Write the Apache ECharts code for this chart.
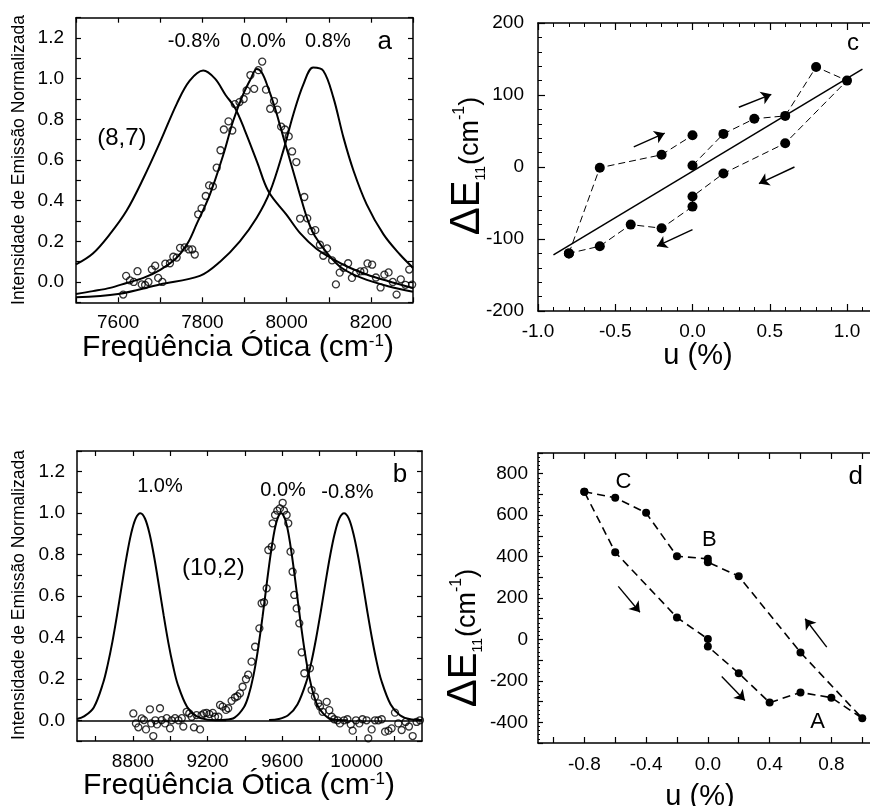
<!DOCTYPE html>
<html><head><meta charset="utf-8">
<script src="https://cdn.jsdelivr.net/npm/echarts@6/dist/echarts.min.js"></script>
<style>html,body{margin:0;padding:0;background:#fff}#c{width:870px;height:806px}</style>
</head><body><div id="c"></div><script>
// ---------- Panel a : (8,7) emission, Lorentzian fits ----------
const aCurveNeg08 = [[7500,0.086],[7540,0.14],[7580,0.234],[7620,0.35],[7660,0.51],[7700,0.69],[7740,0.88],[7770,0.99],[7802,1.04],[7830,1.0],[7855,0.92],[7877,0.858],[7900,0.75],[7930,0.59],[7957,0.445],[8000,0.33],[8032,0.24],[8070,0.165],[8111,0.111],[8150,0.07],[8190,0.037],[8240,0.005],[8300,-0.03]];
const aCurveZero = [[7500,-0.059],[7540,-0.045],[7581,-0.029],[7620,-0.005],[7660,0.02],[7700,0.06],[7739,0.119],[7765,0.19],[7786,0.283],[7818,0.431],[7850,0.628],[7873,0.792],[7897,0.924],[7915,1.0],[7929,1.048],[7941,1.03],[7956,0.956],[7972,0.858],[7988,0.743],[8004,0.628],[8020,0.513],[8036,0.398],[8051,0.3],[8067,0.226],[8099,0.135],[8131,0.069],[8178,0.02],[8241,-0.021],[8300,-0.048]];
const aCurvePos08 = [[7500,-0.075],[7600,-0.059],[7699,-0.012],[7794,0.03],[7842,0.1],[7889,0.2],[7929,0.316],[7961,0.447],[7992,0.645],[8016,0.825],[8040,0.973],[8063,1.055],[8087,1.039],[8111,0.907],[8135,0.71],[8159,0.546],[8190,0.382],[8230,0.234],[8269,0.135],[8300,0.07]];
const aPoints = [[7612,-0.062],[7619,0.03],[7628,0.008],[7637,0.0],[7646,0.053],[7656,-0.012],[7664,-0.015],[7672,0.0],[7680,0.061],[7688,0.08],[7695,0.02],[7705,0.0],[7712,0.09],[7723,0.092],[7731,0.124],[7739,0.12],[7747,0.168],[7758,0.17],[7768,0.16],[7776,0.16],[7782,0.135],[7790,0.333],[7798,0.362],[7808,0.423],[7816,0.475],[7825,0.47],[7834,0.562],[7843,0.648],[7851,0.75],[7862,0.79],[7871,0.745],[7877,0.875],[7888,0.885],[7898,0.9],[7905,0.942],[7914,1.018],[7923,0.95],[7933,1.042],[7942,1.084],[7951,0.946],[7961,0.852],[7970,0.89],[7978,0.848],[7987,0.764],[7996,0.75],[8005,0.716],[8013,0.642],[8023,0.59],[8032,0.312],[8042,0.418],[8049,0.313],[8059,0.25],[8068,0.255],[8079,0.183],[8087,0.129],[8096,0.165],[8108,0.106],[8117,-0.012],[8126,0.046],[8135,0.07],[8146,0.092],[8155,0.02],[8165,0.044],[8175,0.052],[8184,0.053],[8192,0.091],[8203,0.085],[8212,0.022],[8223,-0.027],[8232,0.036],[8242,0.047],[8252,0.0],[8261,-0.062],[8271,0.013],[8282,-0.014],[8291,0.061],[8298,-0.013]];
const aPctLabels = [[7780,1.182,'-0.8%'],[7944,1.182,'0.0%'],[8098,1.182,'0.8%']];
const aTubeLabel = [[7609,0.708,'(8,7)']];
const aTag = [[8233,1.18,'a']];

// ---------- Panel b : (10,2) emission, Gaussian fits ----------
const bCurvePos10 = [[8500,0.006],[8540,0.02],[8590,0.062],[8640,0.18],[8665,0.27],[8690,0.38],[8715,0.51],[8740,0.65],[8765,0.785],[8790,0.9],[8815,0.975],[8840,1.0],[8865,0.973],[8890,0.897],[8915,0.782],[8940,0.646],[8965,0.505],[8990,0.374],[9015,0.263],[9040,0.174],[9090,0.065],[9140,0.02],[9200,0.003],[9300,0]];
const bCurveZero = [[9250,0.001],[9295,0.002],[9345,0.013],[9395,0.063],[9420,0.12],[9445,0.211],[9470,0.339],[9495,0.5],[9520,0.678],[9545,0.841],[9570,0.958],[9595,1.0],[9620,0.958],[9645,0.841],[9670,0.678],[9695,0.5],[9720,0.339],[9745,0.211],[9770,0.12],[9795,0.063],[9845,0.013],[9895,0.002],[9950,0]];
const bCurveNeg08 = [[9530,0.001],[9582,0.006],[9632,0.024],[9682,0.076],[9732,0.192],[9757,0.282],[9782,0.395],[9807,0.524],[9832,0.662],[9857,0.793],[9882,0.902],[9907,0.975],[9932,1.0],[9957,0.975],[9982,0.902],[10007,0.793],[10032,0.662],[10057,0.524],[10082,0.395],[10107,0.282],[10132,0.192],[10182,0.076],[10232,0.024],[10282,0.006],[10350,0.001]];
const bPoints = [[8802,0.033],[8816,-0.015],[8829,-0.034],[8847,0.009],[8859,0.001],[8870,-0.044],[8891,0.053],[8898,-0.015],[8909,-0.076],[8920,0.0],[8929,-0.02],[8945,0.058],[8954,0.001],[8972,-0.015],[8981,0.01],[8999,-0.039],[9008,0.0],[9026,0.01],[9044,0.0],[9062,0.01],[9070,-0.03],[9088,0.041],[9102,0.033],[9115,0.017],[9127,-0.034],[9141,0.025],[9160,-0.044],[9168,0.025],[9181,0.033],[9195,0.036],[9210,0.03],[9228,0.036],[9240,0.017],[9258,0.017],[9267,0.074],[9281,0.066],[9299,0.05],[9311,0.058],[9329,0.094],[9347,0.11],[9360,0.116],[9374,0.13],[9388,0.162],[9406,0.198],[9418,0.22],[9436,0.283],[9455,0.355],[9478,0.444],[9490,0.565],[9503,0.57],[9517,0.637],[9526,0.822],[9544,0.838],[9549,0.951],[9562,0.991],[9574,1.012],[9588,1.023],[9603,1.05],[9610,1.012],[9624,0.991],[9633,0.951],[9645,0.814],[9656,0.717],[9665,0.605],[9678,0.54],[9692,0.468],[9705,0.328],[9719,0.227],[9749,0.251],[9758,0.146],[9776,0.114],[9794,0.082],[9803,0.066],[9817,0.041],[9839,0.089],[9853,0.049],[9866,0.017],[9879,0.005],[9897,0.0],[9910,-0.015],[9932,0.0],[9950,0.005],[9968,-0.02],[9978,-0.05],[9996,0.0],[10014,-0.015],[10031,0.005],[10053,0.0],[10062,-0.087],[10080,-0.044],[10098,0.0],[10116,0.0],[10134,0.005],[10152,-0.055],[10170,-0.05],[10187,-0.039],[10205,0.037],[10223,-0.015],[10241,-0.047],[10262,-0.008],[10280,-0.03],[10300,-0.076],[10321,-0.008],[10339,0.0]];
const bPctLabels = [[8945,1.128,'1.0%'],[9605,1.108,'0.0%'],[9950,1.10,'-0.8%']];
const bTubeLabel = [[9231,0.735,'(10,2)']];
const bTag = [[10232,1.184,'b']];
const bXTicks = [8600,8800,9000,9200,9400,9600,9800,10000,10200];
const bXLabels = [8800,9200,9600,10000];

// ---------- Panel c : (8,7) shift vs strain ----------
const cBranch1 = [[-0.8,-120],[-0.6,-1],[-0.2,17],[0,44]];
const cBranch2 = [[0,2],[0.2,46],[0.4,67],[0.6,71],[0.8,139],[1.0,120],[0.6,33],[0.2,-9],[0,-41],[0,-55],[-0.2,-85],[-0.4,-80],[-0.6,-110],[-0.8,-120]];
const cFit = [[-0.9,-122],[1.1,136]];
const cArrows = [[-0.38,28,-0.18,47],[0.30,83,0.51,101],[0.66,0,0.43,-23],[0.0,-87,-0.23,-110]];
const cTag = [[1.039,172,'c']];

// ---------- Panel d : (10,2) shift vs strain ----------
const dLoop = [[-0.8,713],[-0.6,684],[-0.4,611],[-0.2,402],[0,389],[0,373],[0.2,305],[0.6,-63],[1.0,-381],[0.8,-281],[0.6,-256],[0.4,-305],[0.2,-163],[0,-34],[0,2],[-0.2,106],[-0.6,421],[-0.8,713]];
const dArrows = [[-0.58,256,-0.44,131],[0.09,-179,0.24,-295],[0.77,-37,0.63,100]];
const dLetters = [[-0.547,761,'C'],[0.01,480,'B'],[0.711,-397,'A']];
const dTag = [[0.958,786,'d']];
const dXTicks = [-1.0,-0.8,-0.6,-0.4,-0.2,0,0.2,0.4,0.6,0.8,1.0];
const dXLabels = [-0.8,-0.4,0,0.4,0.8];

// ---------- styles ----------
const FF = '"Liberation Sans", Arial, Helvetica, sans-serif';
const AL = {show:true, onZero:false, lineStyle:{color:'#000', width:1.5}};
const TK = (len, extra) => Object.assign({show:true, inside:true, length:len, lineStyle:{color:'#000', width:1.2}}, extra||{});
const LB = (extra) => Object.assign({color:'#000', fontSize:19, fontFamily:FF}, extra||{});
const NOL = {show:false};
const NOS = {show:false};
const f1 = v => v.toFixed(1);
const evenTenth = v => { const k = Math.round(v*10); return (k >= 0 && k % 2 === 0) ? (k/10).toFixed(1) : ''; };

const chart = echarts.init(document.getElementById('c'), null, {renderer:'canvas'});

// axis indices: x: 0 a-bottom, 1 a-top, 2 b-bottom, 3 b-top, 4 c-bottom, 5 c-top, 6 d-bottom, 7 d-top
//               y: 0 a-left, 1 a-right, 2 b-left, 3 b-right, 4 c-left, 5 d-left
function labelSeries(xi, yi, arr, size) {
  return {type:'scatter', xAxisIndex:xi, yAxisIndex:yi, symbolSize:0, silent:true,
    itemStyle:{color:'#000', opacity:1}, z:5,
    label:{show:true, position:'inside', formatter:p=>p.value[2], color:'#000', fontSize:size, fontFamily:FF, textBorderWidth:0},
    data: arr};
}
function curve(xi, yi, arr) {
  return {type:'line', xAxisIndex:xi, yAxisIndex:yi, data:arr, smooth:0.35, symbol:'none',
    lineStyle:{color:'#000', width:2}, z:3};
}
function open(xi, yi, arr) {
  return {type:'scatter', xAxisIndex:xi, yAxisIndex:yi, data:arr, symbol:'circle', symbolSize:7,
    itemStyle:{color:'rgba(255,255,255,0)', borderColor:'#000', borderWidth:1.3}, z:4};
}
function arrowLines(arr) {
  return arr.map(a => [{coord:[a[0],a[1]]},{coord:[a[2],a[3]]}]);
}

const yNameRich = {
  d:{fontSize:42, fontFamily:FF, fill:'#000', verticalAlign:'bottom'},
  e:{fontSize:40, fontFamily:FF, fill:'#000', verticalAlign:'bottom'},
  s:{fontSize:14, fontFamily:FF, fill:'#000', verticalAlign:'bottom', padding:[0,1,0,0]},
  p:{fontSize:27, fontFamily:FF, fill:'#000', verticalAlign:'bottom', padding:[0,0,4,0]},
  u:{fontSize:16, fontFamily:FF, fill:'#000', verticalAlign:'top', padding:[6,0,0,0]}
};
const xNameRich = {
  m:{fontSize:30, fontFamily:FF, fill:'#000', verticalAlign:'bottom'},
  u:{fontSize:17, fontFamily:FF, fill:'#000', verticalAlign:'top'}
};
const yNameC = '{d|Δ}{e|E}{s|11}{p|(cm}{u|-1}{p|)}';
const ARROW_ML = (arr) => ({silent:true, symbol:['none','arrow'], symbolSize:10, label:{show:false},
  lineStyle:{color:'#000', type:'solid', width:1.4}, emphasis:{disabled:true}, data:arrowLines(arr)});

const option = {
  animation:false,
  backgroundColor:'#fff',
  grid:[
    {left:76, top:17.7, width:337, height:284.6, outerBoundsMode:'none', containLabel:false},
    {left:77, top:451, width:345, height:290, outerBoundsMode:'none', containLabel:false},
    {left:538, top:23, width:386.25, height:288, outerBoundsMode:'none', containLabel:false},
    {left:538, top:453, width:339.7, height:290, outerBoundsMode:'none', containLabel:false}
  ],
  xAxis:[
    {gridIndex:0, type:'value', min:7500, max:8300, interval:100, position:'bottom', axisLine:AL, axisTick:TK(5), axisLabel:LB({margin:11, formatter:v => v % 200 === 0 ? String(v) : ''}), splitLine:NOS},
    {gridIndex:0, type:'value', min:7500, max:8300, interval:100, position:'top', axisLine:AL, axisTick:TK(5), axisLabel:NOL, splitLine:NOS},
    {gridIndex:1, type:'value', min:8500, max:10350, position:'bottom', axisLine:AL, axisTick:TK(5,{customValues:bXTicks}), axisLabel:LB({margin:11, customValues:bXLabels, formatter:v => String(v)}), splitLine:NOS},
    {gridIndex:1, type:'value', min:8500, max:10350, position:'top', axisLine:AL, axisTick:TK(5,{customValues:bXTicks}), axisLabel:NOL, splitLine:NOS},
    {gridIndex:2, type:'value', min:-1.0, max:1.5, interval:0.5, position:'bottom', axisLine:AL, axisTick:TK(7), minorTick:{show:true, splitNumber:5, length:4, lineStyle:{color:'#000', width:1}}, axisLabel:LB({margin:11, formatter:v => v > 1.01 ? '' : f1(v)}), splitLine:NOS},
    {gridIndex:2, type:'value', min:-1.0, max:1.5, interval:0.5, position:'top', axisLine:AL, axisTick:TK(7), minorTick:{show:true, splitNumber:5, length:4, lineStyle:{color:'#000', width:1}}, axisLabel:NOL, splitLine:NOS},
    {gridIndex:3, type:'value', min:-1.1, max:1.1, position:'bottom', axisLine:AL, axisTick:TK(6,{customValues:dXTicks}), axisLabel:LB({margin:12, customValues:dXLabels, formatter:f1}), splitLine:NOS},
    {gridIndex:3, type:'value', min:-1.1, max:1.1, position:'top', axisLine:AL, axisTick:TK(6,{customValues:dXTicks}), axisLabel:NOL, splitLine:NOS}
  ],
  yAxis:[
    {gridIndex:0, type:'value', min:-0.1, max:1.3, interval:0.1, position:'left', axisLine:AL, axisTick:TK(5), axisLabel:LB({margin:12, formatter:evenTenth}), splitLine:NOS},
    {gridIndex:0, type:'value', min:-0.1, max:1.3, interval:0.1, position:'right', axisLine:AL, axisTick:TK(5), axisLabel:NOL, splitLine:NOS},
    {gridIndex:1, type:'value', min:-0.1, max:1.3, interval:0.1, position:'left', axisLine:AL, axisTick:TK(5), axisLabel:LB({margin:12, formatter:evenTenth}), splitLine:NOS},
    {gridIndex:1, type:'value', min:-0.1, max:1.3, interval:0.1, position:'right', axisLine:AL, axisTick:TK(5), axisLabel:NOL, splitLine:NOS},
    {gridIndex:2, type:'value', min:-200, max:200, interval:100, position:'left', axisLine:AL, axisTick:TK(7), minorTick:{show:true, splitNumber:5, length:4, lineStyle:{color:'#000', width:1}}, axisLabel:LB({margin:14}), splitLine:NOS},
    {gridIndex:3, type:'value', min:-500, max:900, interval:100, position:'left', axisLine:AL, axisTick:TK(5), minorTick:{show:true, splitNumber:5, length:2, lineStyle:{color:'#000', width:1}}, axisLabel:LB({margin:10, formatter:v => (v % 200 === 0 && v > -500 && v < 900) ? String(v) : ''}), splitLine:NOS}
  ],
  graphic:[
    {type:'text', x:19, y:160, rotation:Math.PI/2, silent:true, style:{text:'Intensidade de Emissão Normalizada', fontSize:17.5, fontFamily:FF, fill:'#000', align:'center', verticalAlign:'middle'}},
    {type:'text', x:19, y:595, rotation:Math.PI/2, silent:true, style:{text:'Intensidade de Emissão Normalizada', fontSize:17.5, fontFamily:FF, fill:'#000', align:'center', verticalAlign:'middle'}},
    {type:'text', x:238, y:348, silent:true, style:{text:'{m|Freqüência Ótica (cm}{u|-1}{m|)}', rich:xNameRich, align:'center', verticalAlign:'middle'}},
    {type:'text', x:239, y:786, silent:true, style:{text:'{m|Freqüência Ótica (cm}{u|-1}{m|)}', rich:xNameRich, align:'center', verticalAlign:'middle'}},
    {type:'text', x:467, y:166, rotation:Math.PI/2, silent:true, style:{text:yNameC, rich:yNameRich, align:'center', verticalAlign:'middle'}},
    {type:'text', x:464, y:638, rotation:Math.PI/2, silent:true, style:{text:yNameC, rich:yNameRich, align:'center', verticalAlign:'middle'}},
    {type:'text', x:698, y:356, silent:true, style:{text:'u (%)', fontSize:29, fontFamily:FF, fill:'#000', align:'center', verticalAlign:'middle'}},
    {type:'text', x:700, y:797, silent:true, style:{text:'u (%)', fontSize:29, fontFamily:FF, fill:'#000', align:'center', verticalAlign:'middle'}}
  ],
  series:[
    // panel a
    curve(0,0,aCurveNeg08), curve(0,0,aCurveZero), curve(0,0,aCurvePos08),
    open(0,0,aPoints),
    labelSeries(0,0,aPctLabels,20), labelSeries(0,0,aTubeLabel,24), labelSeries(0,0,aTag,26),
    // panel b
    Object.assign(curve(2,2,bCurvePos10), {markLine:{silent:true, symbol:'none', label:{show:false}, lineStyle:{color:'#000', type:'solid', width:1.5}, data:[{yAxis:0}]}}),
    curve(2,2,bCurveZero), curve(2,2,bCurveNeg08),
    open(2,2,bPoints),
    labelSeries(2,2,bPctLabels,20), labelSeries(2,2,bTubeLabel,24), labelSeries(2,2,bTag,26),
    // panel c
    {type:'line', xAxisIndex:4, yAxisIndex:4, data:cFit, symbol:'none', lineStyle:{color:'#000', width:1.5}, z:2},
    {type:'line', xAxisIndex:4, yAxisIndex:4, data:cBranch1, symbol:'circle', symbolSize:10, showSymbol:true,
      itemStyle:{color:'#000'}, lineStyle:{color:'#000', width:1, type:[7,4]}, z:3},
    {type:'line', xAxisIndex:4, yAxisIndex:4, data:cBranch2, symbol:'circle', symbolSize:10, showSymbol:true,
      itemStyle:{color:'#000'}, lineStyle:{color:'#000', width:1, type:[7,4]}, z:3, markLine:ARROW_ML(cArrows)},
    labelSeries(4,4,cTag,24),
    // panel d
    {type:'line', xAxisIndex:6, yAxisIndex:5, data:dLoop, symbol:'circle', symbolSize:8, showSymbol:true,
      itemStyle:{color:'#000'}, lineStyle:{color:'#000', width:1.6, type:[8,5]}, z:3, markLine:ARROW_ML(dArrows)},
    labelSeries(6,5,dLetters,22), labelSeries(6,5,dTag,26)
  ]
};
chart.setOption(option);
</script></body></html>
